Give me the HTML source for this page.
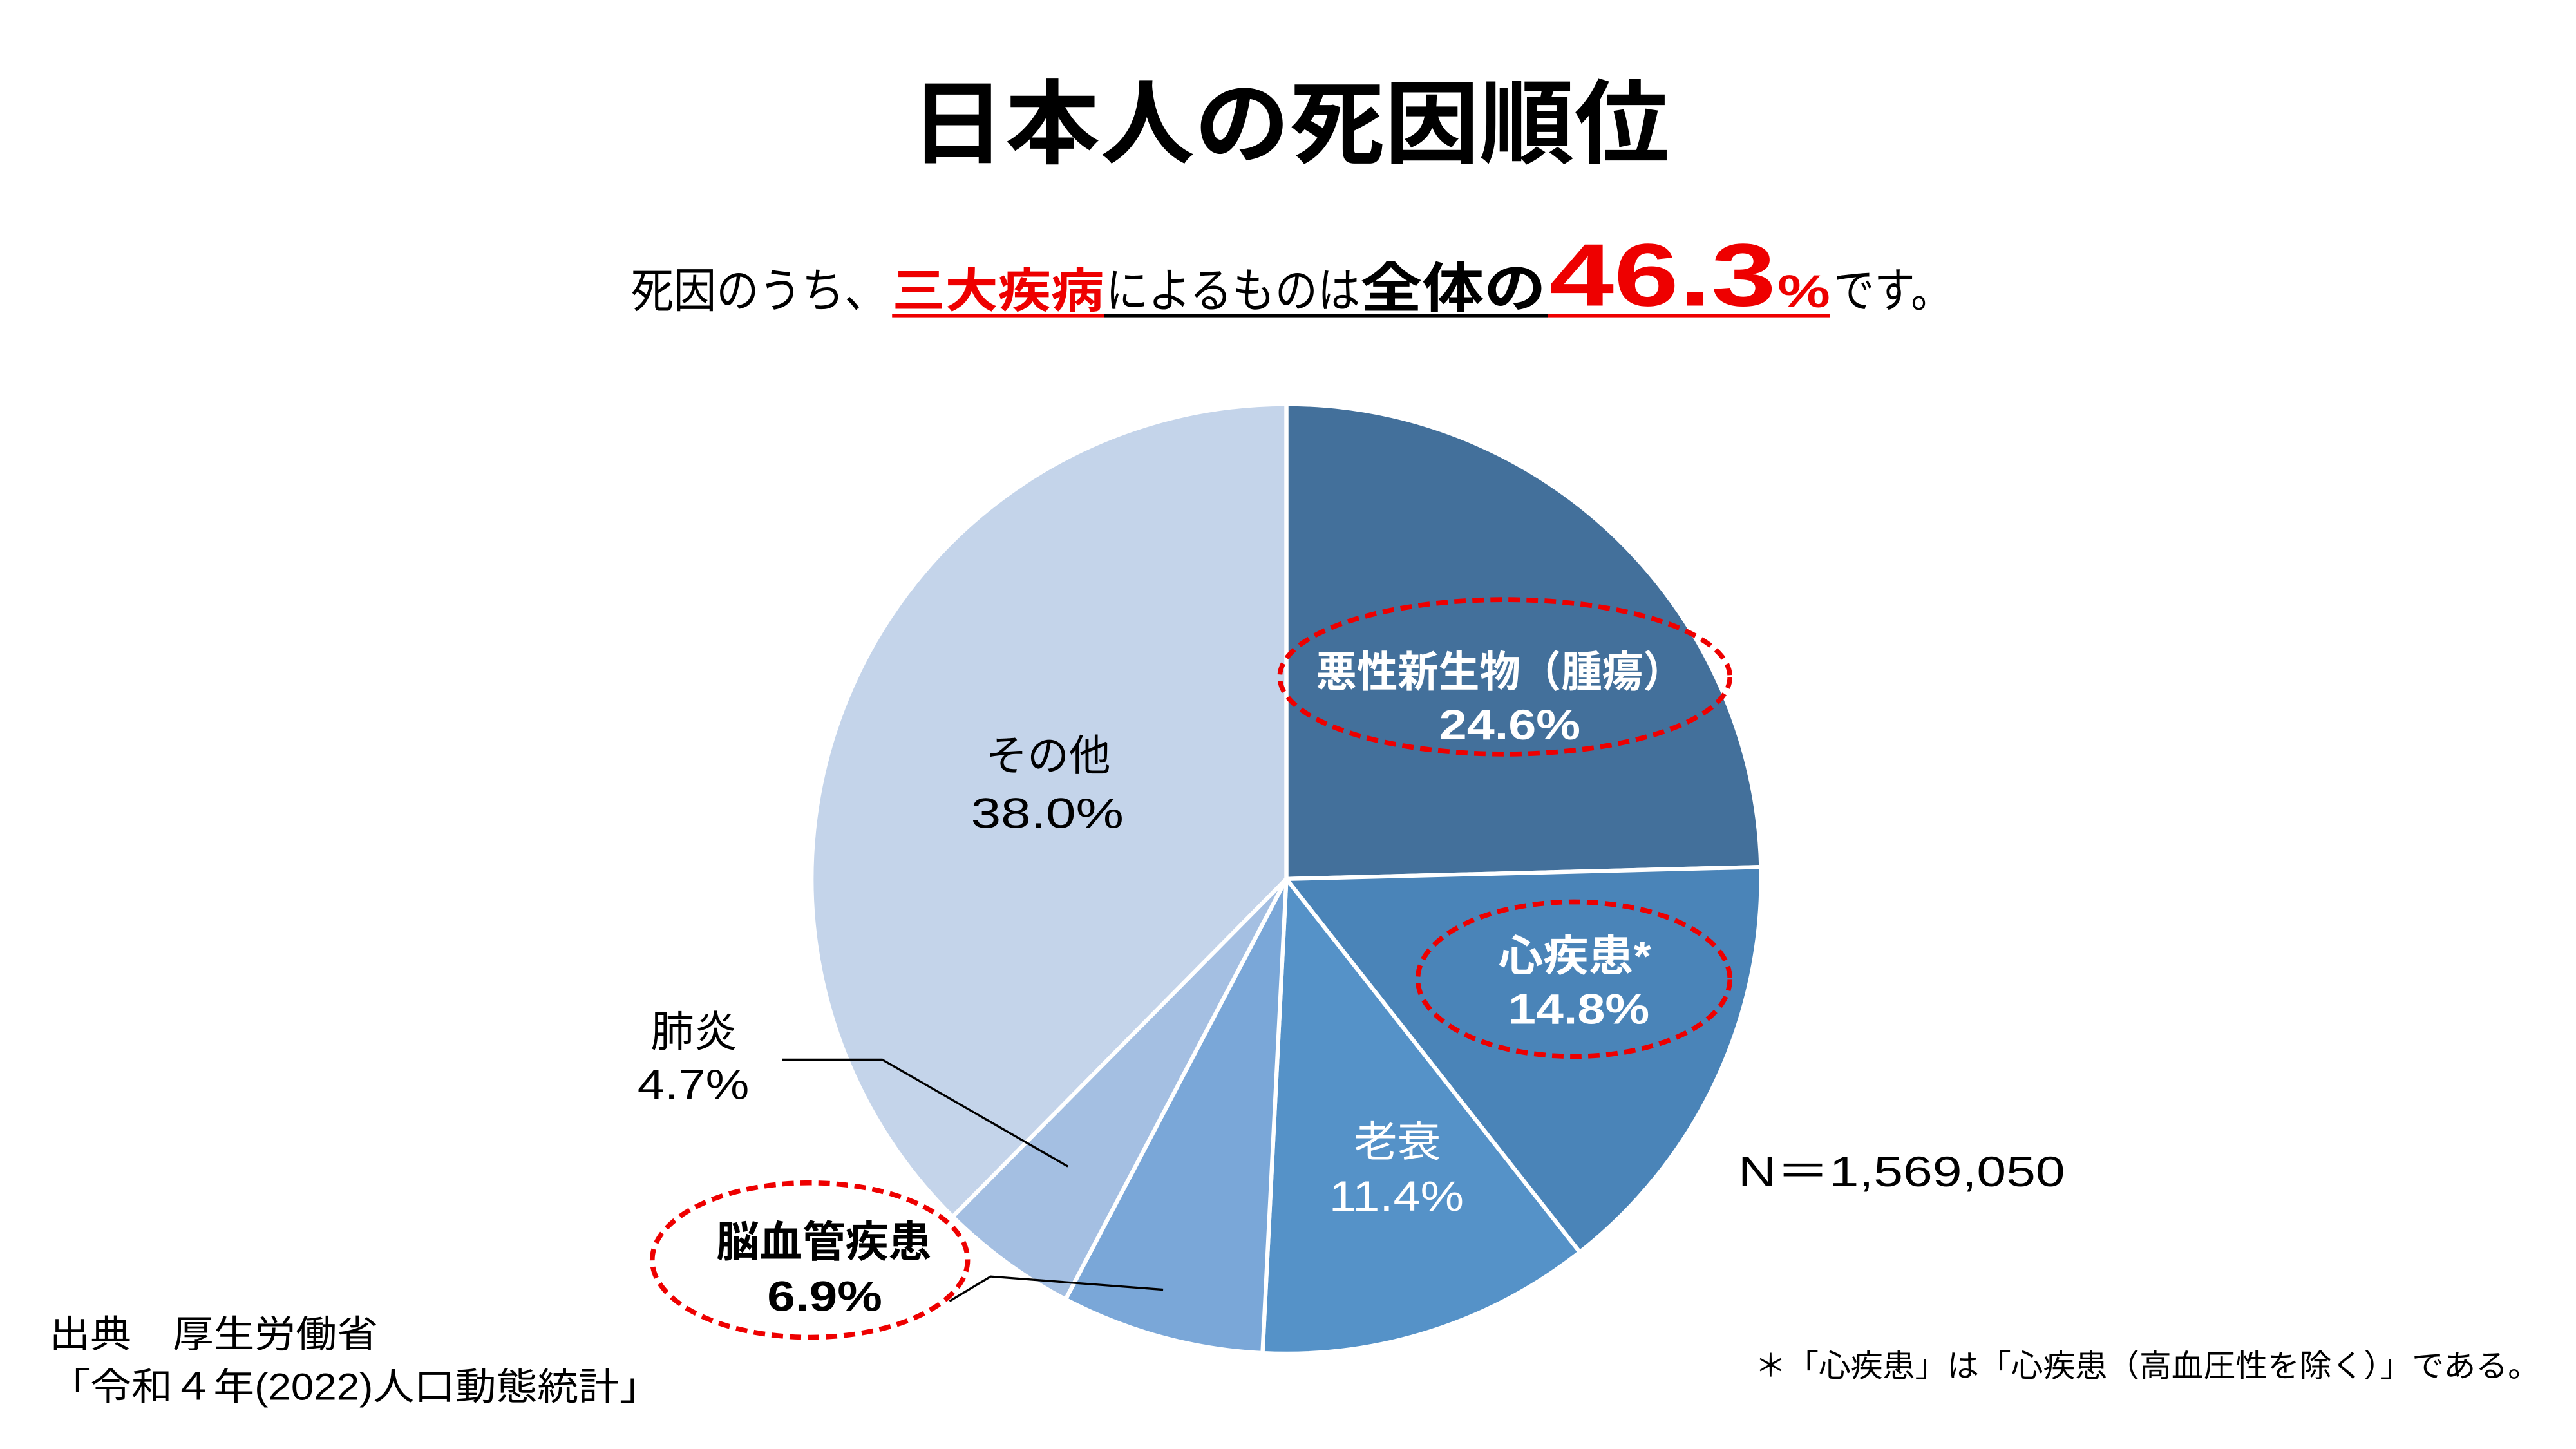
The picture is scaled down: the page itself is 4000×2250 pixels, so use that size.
<!DOCTYPE html>
<html><head><meta charset="utf-8"><style>html,body{margin:0;padding:0;background:#fff}svg{display:block}</style></head>
<body>
<svg xmlns="http://www.w3.org/2000/svg" width="4000" height="2250" viewBox="0 0 1568 882" font-family="'Liberation Sans','Noto Sans CJK JP',sans-serif">
<rect width="1568" height="882" fill="#fff"/>
<text x="785" y="95" text-anchor="middle" font-size="56" font-weight="bold" textLength="462" lengthAdjust="spacingAndGlyphs">日本人の死因順位</text>
<g font-size="29">
<text x="384" y="187" textLength="156" lengthAdjust="spacingAndGlyphs">死因のうち、</text>
<text x="543" y="187" fill="#e00" font-weight="bold" textLength="129" lengthAdjust="spacingAndGlyphs">三大疾病</text>
<text x="673" y="187" textLength="155" lengthAdjust="spacingAndGlyphs">によるものは</text>
<text x="828" y="187" font-weight="bold" font-size="33" textLength="113" lengthAdjust="spacingAndGlyphs">全体の</text>
<text x="943" y="186" fill="#e00" font-weight="bold" font-size="54" textLength="138" lengthAdjust="spacingAndGlyphs">46.3</text>
<text x="1082" y="187" fill="#e00" font-weight="bold" font-size="28" textLength="32" lengthAdjust="spacingAndGlyphs">%</text>
<text x="1116" y="187" textLength="72" lengthAdjust="spacingAndGlyphs">です。</text>
</g>
<rect x="543" y="191" width="129" height="2.5" fill="#e00"/>
<rect x="672" y="191" width="270" height="2.5" fill="#000"/>
<rect x="942" y="191" width="172" height="2.5" fill="#e00"/>
<g stroke="#fff" stroke-width="2.5" stroke-linejoin="round">
<path d="M783,535 L783,246 A289,289 0 0 1 1071.9,527.7 Z" fill="#43709b"/>
<path d="M783,535 L1071.9,527.7 A289,289 0 0 1 961.6,762.2 Z" fill="#4a84b8"/>
<path d="M783,535 L961.6,762.2 A289,289 0 0 1 768.5,823.6 Z" fill="#5592c8"/>
<path d="M783,535 L768.5,823.6 A289,289 0 0 1 648.6,790.9 Z" fill="#7aa7d8"/>
<path d="M783,535 L648.6,790.9 A289,289 0 0 1 579.9,740.6 Z" fill="#a4bfe2"/>
<path d="M783,535 L579.9,740.6 A289,289 0 0 1 783,246 Z" fill="#c4d4ea"/>
</g>
<g fill="none" stroke="#e00" stroke-width="3" stroke-dasharray="7,4">
<ellipse cx="916" cy="412" rx="137" ry="47"/>
<ellipse cx="958" cy="596" rx="95" ry="47"/>
<ellipse cx="493" cy="767" rx="96" ry="47"/>
</g>
<g fill="none" stroke="#000" stroke-width="1.3">
<polyline points="476,645 537,645 650,710"/>
<polyline points="578,792 603,777 708,785"/>
</g>
<g font-size="26" lengthAdjust="spacingAndGlyphs">
<text x="801" y="418" fill="#fff" font-weight="bold" textLength="224" lengthAdjust="spacingAndGlyphs">悪性新生物（腫瘍）</text>
<text x="876" y="450" fill="#fff" font-weight="bold" textLength="86" lengthAdjust="spacingAndGlyphs">24.6%</text>
<text x="912" y="591" fill="#fff" font-weight="bold" textLength="93" lengthAdjust="spacingAndGlyphs">心疾患*</text>
<text x="918" y="623" fill="#fff" font-weight="bold" textLength="86" lengthAdjust="spacingAndGlyphs">14.8%</text>
<text x="824" y="704" fill="#fff" textLength="53" lengthAdjust="spacingAndGlyphs">老衰</text>
<text x="809" y="737" fill="#fff" textLength="82" lengthAdjust="spacingAndGlyphs">11.4%</text>
<text x="600" y="469" textLength="76" lengthAdjust="spacingAndGlyphs">その他</text>
<text x="591" y="504" textLength="93" lengthAdjust="spacingAndGlyphs">38.0%</text>
<text x="396" y="637" textLength="53" lengthAdjust="spacingAndGlyphs">肺炎</text>
<text x="388" y="669" textLength="68" lengthAdjust="spacingAndGlyphs">4.7%</text>
<text x="436" y="765" font-weight="bold" textLength="131" lengthAdjust="spacingAndGlyphs">脳血管疾患</text>
<text x="467" y="798" font-weight="bold" textLength="70" lengthAdjust="spacingAndGlyphs">6.9%</text>
<text x="1058" y="722" textLength="199" lengthAdjust="spacingAndGlyphs">N＝1,569,050</text>
</g>
<g font-size="23">
<text x="30" y="820" textLength="200" lengthAdjust="spacingAndGlyphs">出典　厚生労働省</text>
<text x="30" y="852" textLength="372" lengthAdjust="spacingAndGlyphs">「令和４年(2022)人口動態統計」</text>
</g>
<text x="1068" y="838" font-size="19" textLength="478" lengthAdjust="spacingAndGlyphs">＊「心疾患」は「心疾患（高血圧性を除く）」である。</text>
</svg>
</body></html>
